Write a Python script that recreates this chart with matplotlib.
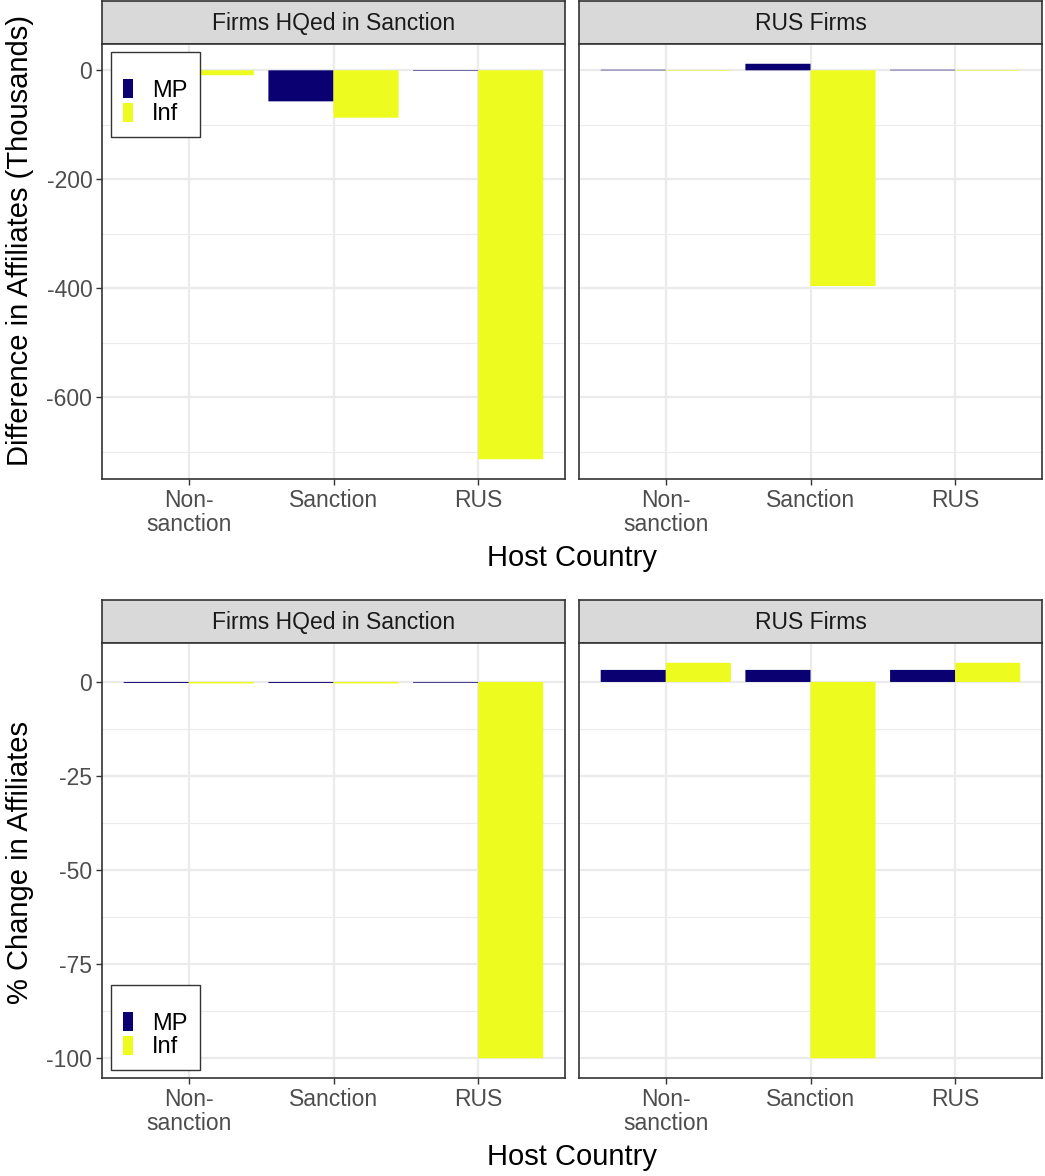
import numpy as np
import matplotlib
matplotlib.use('Agg')
import matplotlib.pyplot as plt
from matplotlib.patches import Patch

plt.rcParams['font.family'] = ['Liberation Sans', 'DejaVu Sans']

# host country categories and the two firm groups (facets)
hosts = ['Non-\nsanction', 'Sanction', 'RUS']
facets = ['Firms HQed in Sanction', 'RUS Firms']
series = ['MP', 'Inf']

# difference in affiliates (thousands)
diff_sanc_mp = [-0.5, -57, -1.0]
diff_sanc_inf = [-9, -87, -714]
diff_rus_mp = [1.0, 12, 1.0]
diff_rus_inf = [-1.0, -396, -1.0]

# % change in affiliates
pct_sanc_mp = [-0.25, -0.25, -0.2]
pct_sanc_inf = [-0.4, -0.4, -100]
pct_rus_mp = [3.2, 3.2, 3.2]
pct_rus_inf = [5.1, -100, 5.1]

diff_ticks = [0, -200, -400, -600]
diff_minor = [-100, -300, -500, -700]
pct_ticks = [0, -25, -50, -75, -100]
pct_minor = [-12.5, -37.5, -62.5, -87.5]

col_mp = '#0B0072'
col_inf = '#EDFC1E'
grid_col = '#EBEBEB'
dark = '#333333'

W, H = 1045, 1176
fig = plt.figure(figsize=(W / 100, H / 100), dpi=100)


def px_axes(l, t, r, b):
    return fig.add_axes([l / W, 1 - b / H, (r - l) / W, (b - t) / H])


def draw_row(top, bottom, data, ticks, minor, ylabel, ylabel_y, legend_loc):
    allv = np.concatenate([np.ravel(d) for d in data])
    lo, hi = min(allv.min(), 0), max(allv.max(), 0)
    pad = 0.05 * (hi - lo)
    panels = [(102, 565), (579, 1042)]
    axes = []
    for k, (l, r) in enumerate(panels):
        # strip header
        sax = px_axes(l, top, r, top + 43)
        sax.set_facecolor('#D9D9D9')
        sax.set_xticks([])
        sax.set_yticks([])
        for s in sax.spines.values():
            s.set_color(dark)
            s.set_linewidth(1.2)
        sax.text(0.5, 0.47, facets[k], ha='center', va='center',
                 fontsize=16.5, color='#1A1A1A', transform=sax.transAxes)

        ax = px_axes(l, top + 43, r, bottom)
        x = np.arange(len(hosts))
        mp, inf = data[2 * k], data[2 * k + 1]
        ax.bar(x - 0.225, mp, width=0.45, color=col_mp, zorder=3,
               snap=False, label='MP')
        ax.bar(x + 0.225, inf, width=0.45, color=col_inf, zorder=3,
               snap=False, label='Inf')
        ax.set_xlim(-0.6, 2.6)
        ax.set_ylim(lo - pad, hi + pad)
        ax.set_xticks(x)
        ax.set_yticks(ticks)
        ax.set_yticks(minor, minor=True)
        ax.grid(True, which='major', color=grid_col, linewidth=1.6, zorder=0)
        ax.grid(True, which='minor', axis='y', color=grid_col, linewidth=0.8, zorder=0)
        ax.set_axisbelow(True)
        ax.tick_params(axis='both', which='major', length=4, width=1,
                       color=dark, labelsize=16.5, labelcolor='#4D4D4D', pad=3)
        ax.tick_params(axis='y', which='minor', length=0)
        if k == 0:
            ax.set_yticklabels([str(t) for t in ticks])
        else:
            ax.tick_params(axis='y', which='major', left=False, labelleft=False)
        ax.set_xticklabels(hosts, linespacing=1.05)
        for s in ax.spines.values():
            s.set_color(dark)
            s.set_linewidth(1.2)
        axes.append(ax)

    fig.text(20 / W, 1 - ylabel_y / H, ylabel, rotation=90, ha='center',
             va='center', fontsize=21, color='black')
    fig.text(572 / W, 1 - (bottom + 79) / H, 'Host Country', ha='center',
             va='center', fontsize=21, color='black')

    handles = [Patch(facecolor=col_mp), Patch(facecolor=col_inf)]
    leg = axes[0].legend(handles, series, loc='upper left',
                         bbox_to_anchor=legend_loc,
                         bbox_transform=fig.transFigure,
                         title=' ', title_fontsize=10.5, fontsize=17,
                         handlelength=0.45, handleheight=0.85,
                         handletextpad=0.8, labelspacing=0.05,
                         borderpad=0.5, borderaxespad=0, fancybox=False,
                         framealpha=1, edgecolor=dark)
    leg.get_frame().set_linewidth(1.0)
    leg.set_zorder(10)
    return axes


draw_row(1, 479, [diff_sanc_mp, diff_sanc_inf, diff_rus_mp, diff_rus_inf],
         diff_ticks, diff_minor, 'Difference in Affiliates (Thousands)', 240,
         (111 / W, 1 - 52 / H))
draw_row(600, 1078, [pct_sanc_mp, pct_sanc_inf, pct_rus_mp, pct_rus_inf],
         pct_ticks, pct_minor, '% Change in Affiliates', 862,
         (111 / W, 1 - 985 / H))

plt.savefig('out.png', dpi=100)
